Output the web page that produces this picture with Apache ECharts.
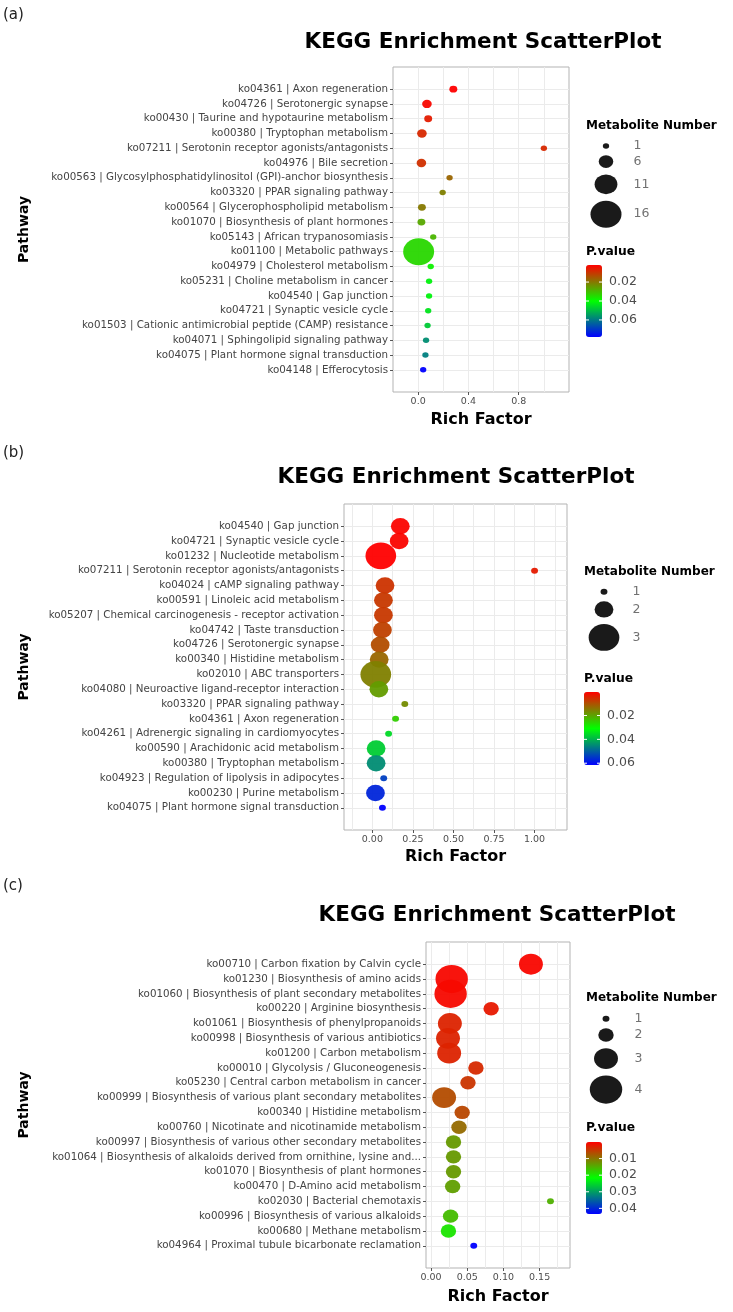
<!DOCTYPE html>
<html>
<head>
<meta charset="utf-8">
<title>KEGG Enrichment ScatterPlot</title>
<script src="https://cdn.jsdelivr.net/npm/echarts@6/dist/echarts.min.js"></script>
<style>
    html, body { margin: 0; padding: 0; background: #fff; }
    #main { width: 733px; height: 1312px; }
</style>
</head>
<body>
<div id="main"></div>
<script>
// ---------------- (a) ----------------
var pathwaysA = [
    'ko04361 | Axon regeneration',
    'ko04726 | Serotonergic synapse',
    'ko00430 | Taurine and hypotaurine metabolism',
    'ko00380 | Tryptophan metabolism',
    'ko07211 | Serotonin receptor agonists/antagonists',
    'ko04976 | Bile secretion',
    'ko00563 | Glycosylphosphatidylinositol (GPI)-anchor biosynthesis',
    'ko03320 | PPAR signaling pathway',
    'ko00564 | Glycerophospholipid metabolism',
    'ko01070 | Biosynthesis of plant hormones',
    'ko05143 | African trypanosomiasis',
    'ko01100 | Metabolic pathways',
    'ko04979 | Cholesterol metabolism',
    'ko05231 | Choline metabolism in cancer',
    'ko04540 | Gap junction',
    'ko04721 | Synaptic vesicle cycle',
    'ko01503 | Cationic antimicrobial peptide (CAMP) resistance',
    'ko04071 | Sphingolipid signaling pathway',
    'ko04075 | Plant hormone signal transduction',
    'ko04148 | Efferocytosis'
];
var richA = [0.28, 0.07, 0.08, 0.03, 1.0, 0.026, 0.25, 0.195, 0.03, 0.026, 0.12, 0.004, 0.1, 0.087, 0.087, 0.08, 0.075, 0.063, 0.058, 0.04];
var countA = [2, 3, 2, 3, 1, 3, 1, 1, 2, 2, 1, 16, 1, 1, 1, 1, 1, 1, 1, 1];
var pvalA = [0.002, 0.003, 0.006, 0.008, 0.008, 0.009, 0.017, 0.021, 0.020, 0.027, 0.029, 0.034, 0.038, 0.042, 0.042, 0.044, 0.048, 0.057, 0.059, 0.078];
var xRangeA = [-0.2, 1.2];
var xTicksA = [0, 0.4, 0.8];
var xGridA = [0, 0.2, 0.4, 0.6, 0.8, 1.0];
var sizeKeysA = [1, 6, 11, 16];
var pRangeA = [0.002, 0.078];
var pTicksA = [0.02, 0.04, 0.06];

// ---------------- (b) ----------------
var pathwaysB = [
    'ko04540 | Gap junction',
    'ko04721 | Synaptic vesicle cycle',
    'ko01232 | Nucleotide metabolism',
    'ko07211 | Serotonin receptor agonists/antagonists',
    'ko04024 | cAMP signaling pathway',
    'ko00591 | Linoleic acid metabolism',
    'ko05207 | Chemical carcinogenesis - receptor activation',
    'ko04742 | Taste transduction',
    'ko04726 | Serotonergic synapse',
    'ko00340 | Histidine metabolism',
    'ko02010 | ABC transporters',
    'ko04080 | Neuroactive ligand-receptor interaction',
    'ko03320 | PPAR signaling pathway',
    'ko04361 | Axon regeneration',
    'ko04261 | Adrenergic signaling in cardiomyocytes',
    'ko00590 | Arachidonic acid metabolism',
    'ko00380 | Tryptophan metabolism',
    'ko04923 | Regulation of lipolysis in adipocytes',
    'ko00230 | Purine metabolism',
    'ko04075 | Plant hormone signal transduction'
];
var richB = [0.172, 0.165, 0.052, 1.0, 0.078, 0.068, 0.068, 0.062, 0.048, 0.042, 0.021, 0.040, 0.2, 0.143, 0.1, 0.023, 0.023, 0.07, 0.019, 0.062];
var countB = [2, 2, 3, 1, 2, 2, 2, 2, 2, 2, 3, 2, 1, 1, 1, 2, 2, 1, 2, 1];
var pvalB = [0.0008, 0.0009, 0.0003, 0.0034, 0.0064, 0.007, 0.007, 0.008, 0.0095, 0.0125, 0.0156, 0.019, 0.017, 0.025, 0.0355, 0.037, 0.0447, 0.054, 0.057, 0.0615];
var xRangeB = [-0.175, 1.2];
var xTicksB = [0, 0.25, 0.5, 0.75, 1.0];
var xGridB = [-0.125, 0, 0.125, 0.25, 0.375, 0.5, 0.625, 0.75, 0.875, 1.0, 1.125];
var sizeKeysB = [1, 2, 3];
var pRangeB = [0.0003, 0.0615];
var pTicksB = [0.02, 0.04, 0.06];

// ---------------- (c) ----------------
var pathwaysC = [
    'ko00710 | Carbon fixation by Calvin cycle',
    'ko01230 | Biosynthesis of amino acids',
    'ko01060 | Biosynthesis of plant secondary metabolites',
    'ko00220 | Arginine biosynthesis',
    'ko01061 | Biosynthesis of phenylpropanoids',
    'ko00998 | Biosynthesis of various antibiotics',
    'ko01200 | Carbon metabolism',
    'ko00010 | Glycolysis / Gluconeogenesis',
    'ko05230 | Central carbon metabolism in cancer',
    'ko00999 | Biosynthesis of various plant secondary metabolites',
    'ko00340 | Histidine metabolism',
    'ko00760 | Nicotinate and nicotinamide metabolism',
    'ko00997 | Biosynthesis of various other secondary metabolites',
    'ko01064 | Biosynthesis of alkaloids derived from ornithine, lysine and...',
    'ko01070 | Biosynthesis of plant hormones',
    'ko00470 | D-Amino acid metabolism',
    'ko02030 | Bacterial chemotaxis',
    'ko00996 | Biosynthesis of various alkaloids',
    'ko00680 | Methane metabolism',
    'ko04964 | Proximal tubule bicarbonate reclamation'
];
var richC = [0.138, 0.0285, 0.027, 0.083, 0.026, 0.0234, 0.025, 0.062, 0.051, 0.018, 0.043, 0.0386, 0.031, 0.031, 0.031, 0.0298, 0.165, 0.027, 0.024, 0.059];
var countC = [3, 4, 4, 2, 3, 3, 3, 2, 2, 3, 2, 2, 2, 2, 2, 2, 1, 2, 2, 1];
var pvalC = [0.0005, 0.0006, 0.0007, 0.002, 0.003, 0.003, 0.003, 0.0035, 0.0045, 0.0065, 0.006, 0.009, 0.013, 0.013, 0.013, 0.0135, 0.015, 0.016, 0.0195, 0.0434];
var xRangeC = [-0.007, 0.192];
var xTicksC = [0, 0.05, 0.10, 0.15];
var xGridC = [0, 0.025, 0.05, 0.075, 0.1, 0.125, 0.15, 0.175];
var sizeKeysC = [1, 2, 3, 4];
var pRangeC = [0, 0.0434];
var pTicksC = [0.01, 0.02, 0.03, 0.04];

// 各面板版式（像素位置与尺寸）
var layoutA = {
    tag: '(a)', tagTop: 6, titleX: 483, titleTop: 30,
    left: 393, top: 67, width: 176, height: 325, dec: 1, xNameGap: 20, yNameGap: 362,
    sizeBase: 5.5, sizeStep: 1.43,
    legX: 586, sizeTitleTop: 119, keyTop: 140, keyCx: 20, keyLx: 47,
    pTitleTop: 245, barTop: 265, barH: 72
};
var layoutB = {
    tag: '(b)', tagTop: 444, titleX: 456, titleTop: 465,
    left: 344, top: 504, width: 223, height: 326, dec: 2, xNameGap: 19, yNameGap: 313,
    sizeBase: 6, sizeStep: 10.35,
    legX: 584, sizeTitleTop: 565, keyTop: 585.5, keyCx: 20, keyLx: 48,
    pTitleTop: 672, barTop: 692, barH: 73
};
var layoutC = {
    tag: '(c)', tagTop: 877, titleX: 497, titleTop: 903,
    left: 426, top: 942, width: 144, height: 326, dec: 2, xNameGap: 21, yNameGap: 395,
    sizeBase: 6, sizeStep: 7.4,
    legX: 586, sizeTitleTop: 991, keyTop: 1012.5, keyCx: 20, keyLx: 48,
    pTitleTop: 1121, barTop: 1142, barH: 72
};

var FONT = 'DejaVu Sans';
var option = {
    animation: false,
    backgroundColor: '#fff',
    textStyle: { fontFamily: FONT },
    title: [], grid: [], xAxis: [], yAxis: [], series: [], visualMap: [], graphic: []
};

/**
 * 构建一个面板：散点图 + 气泡大小图例 + P值色条
 * @param d 数据
 * @param L 版式
 */
function buildPanel(d, L) {
    var rows = d.pathways.map(function (_, i) { return i; });
    var n = d.pathways.length;
    var symH = function (k) { return L.sizeBase + L.sizeStep * (k - 1); };
    var symSize = function (k) { var h = symH(k); return [h * 1.15, h]; };

    // 标题
    option.title.push(
        { text: L.tag, left: 3, top: L.tagTop, padding: 0,
          textStyle: { fontFamily: FONT, fontSize: 15, fontWeight: 'normal', color: '#222', lineHeight: 18 } },
        { text: 'KEGG Enrichment ScatterPlot', left: L.titleX, top: L.titleTop, textAlign: 'center', padding: 0,
          textStyle: { fontFamily: FONT, fontSize: 21.5, fontWeight: 'bold', color: '#000', lineHeight: 24 } },
        { text: 'Metabolite Number', left: L.legX, top: L.sizeTitleTop, padding: 0,
          textStyle: { fontFamily: FONT, fontSize: 12, fontWeight: 'bold', color: '#000', lineHeight: 14 } },
        { text: 'P.value', left: L.legX, top: L.pTitleTop, padding: 0,
          textStyle: { fontFamily: FONT, fontSize: 12.3, fontWeight: 'bold', color: '#000', lineHeight: 14 } }
    );

    // 主网格
    var gi = option.grid.length;
    option.grid.push({ left: L.left, top: L.top, width: L.width, height: L.height,
        show: true, borderColor: '#b3b3b3', borderWidth: 1, backgroundColor: '#fff' });

    var xi = option.xAxis.length;
    option.xAxis.push({
        type: 'value', gridIndex: gi, position: 'bottom', min: d.xRange[0], max: d.xRange[1],
        name: 'Rich Factor', nameLocation: 'middle', nameGap: L.xNameGap,
        nameTextStyle: { fontFamily: FONT, fontSize: 16, fontWeight: 'bold', color: '#000' },
        axisLine: { show: false, onZero: false },
        axisTick: { show: true, length: 3, customValues: d.xTicks, lineStyle: { color: '#555' } },
        axisLabel: { customValues: d.xTicks, margin: 5, fontSize: 9.5, color: '#4d4d4d',
            formatter: function (v) { return v.toFixed(L.dec); } },
        splitLine: { show: false }
    });
    // 只用于画竖向网格线
    option.xAxis.push({
        type: 'value', gridIndex: gi, position: 'top', min: d.xRange[0], max: d.xRange[1],
        axisLine: { show: false, onZero: false }, axisLabel: { show: false },
        axisTick: { show: false, customValues: d.xGrid },
        splitLine: { show: true, lineStyle: { color: '#ebebeb', width: 1 } }
    });

    var yi = option.yAxis.length;
    option.yAxis.push({
        type: 'value', gridIndex: gi, position: 'left', inverse: true, min: -1.5, max: n + 0.5,
        name: 'Pathway', nameLocation: 'middle', nameRotate: 90, nameGap: L.yNameGap,
        nameTextStyle: { fontFamily: FONT, fontSize: 14, fontWeight: 'bold', color: '#000' },
        axisLine: { show: false, onZero: false },
        axisTick: { show: true, length: 3, customValues: rows, lineStyle: { color: '#555' } },
        axisLabel: { customValues: rows, margin: 5, fontSize: 10.3, color: '#444',
            formatter: function (v) { return d.pathways[v]; } },
        splitLine: { show: true, lineStyle: { color: '#ebebeb', width: 1 } }
    });

    var si = option.series.length;
    option.series.push({
        type: 'scatter', xAxisIndex: xi, yAxisIndex: yi,
        data: d.rich.map(function (r, i) { return [r, i, d.count[i], d.pval[i]]; }),
        symbolSize: function (v) { return symSize(v[2]); },
        itemStyle: { opacity: 0.95 },
        emphasis: { disabled: true }
    });

    // P值色条
    option.visualMap.push({
        type: 'continuous', seriesIndex: si, dimension: 3,
        min: d.pRange[0], max: d.pRange[1], inverse: true, orient: 'vertical',
        left: L.legX, top: L.barTop, itemWidth: 16, itemHeight: L.barH, padding: 0,
        calculable: false, hoverLink: false, showLabel: false,
        inRange: { color: ['#ff0000', '#00ff00', '#0000ff'] }
    });
    d.pTicks.forEach(function (v) {
        var y = L.barTop + (v - d.pRange[0]) / (d.pRange[1] - d.pRange[0]) * L.barH;
        option.graphic.push(
            { type: 'text', x: L.legX + 23, y: y, silent: true, z: 100,
              style: { text: v.toFixed(2), fontFamily: FONT, fontSize: 12.5, fill: '#4d4d4d', verticalAlign: 'middle' } },
            { type: 'line', silent: true, z: 100, shape: { x1: L.legX, y1: y, x2: L.legX + 3, y2: y },
              style: { stroke: '#fff', lineWidth: 1 } },
            { type: 'line', silent: true, z: 100, shape: { x1: L.legX + 13, y1: y, x2: L.legX + 16, y2: y },
              style: { stroke: '#fff', lineWidth: 1 } }
        );
    });

    // 气泡大小图例
    var lg = option.grid.length;
    option.grid.push({ left: L.legX, top: L.keyTop, width: 60, height: 120 });
    var lxi = option.xAxis.length;
    var lyi = option.yAxis.length;
    option.xAxis.push({ type: 'value', gridIndex: lg, min: 0, max: 60, show: false });
    option.yAxis.push({ type: 'value', gridIndex: lg, min: 0, max: 120, inverse: true, show: false });
    var keyY = [];
    var acc = 0;
    d.sizeKeys.forEach(function (k) {
        var h = symH(k) + 6.5;
        keyY.push(acc + h / 2);
        acc += h;
    });
    option.series.push({
        type: 'scatter', xAxisIndex: lxi, yAxisIndex: lyi, silent: true,
        data: d.sizeKeys.map(function (k, i) { return [L.keyCx, keyY[i], k]; }),
        symbolSize: function (v) { return symSize(v[2]); },
        itemStyle: { color: '#1a1a1a', opacity: 1 }
    }, {
        type: 'scatter', xAxisIndex: lxi, yAxisIndex: lyi, silent: true,
        data: d.sizeKeys.map(function (k, i) { return [L.keyLx, keyY[i], k]; }),
        symbolSize: 1, itemStyle: { color: 'transparent' },
        label: { show: true, position: 'right', distance: 0, fontFamily: FONT, fontSize: 12.5, color: '#4d4d4d',
            formatter: function (p) { return String(p.value[2]); } }
    });
}

buildPanel({ pathways: pathwaysA, rich: richA, count: countA, pval: pvalA, xRange: xRangeA, xTicks: xTicksA,
    xGrid: xGridA, sizeKeys: sizeKeysA, pRange: pRangeA, pTicks: pTicksA }, layoutA);
buildPanel({ pathways: pathwaysB, rich: richB, count: countB, pval: pvalB, xRange: xRangeB, xTicks: xTicksB,
    xGrid: xGridB, sizeKeys: sizeKeysB, pRange: pRangeB, pTicks: pTicksB }, layoutB);
buildPanel({ pathways: pathwaysC, rich: richC, count: countC, pval: pvalC, xRange: xRangeC, xTicks: xTicksC,
    xGrid: xGridC, sizeKeys: sizeKeysC, pRange: pRangeC, pTicks: pTicksC }, layoutC);

var myChart = echarts.init(document.getElementById('main'));
myChart.setOption(option);
</script>
</body>
</html>
